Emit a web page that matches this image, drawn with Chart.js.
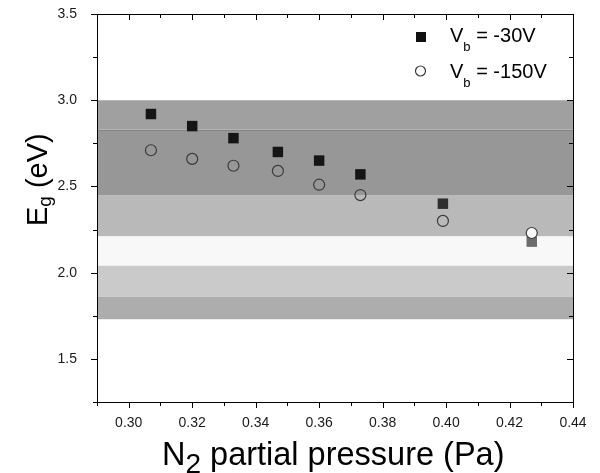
<!DOCTYPE html>
<html>
<head>
<meta charset="utf-8">
<script src="https://cdn.jsdelivr.net/npm/chart.js@4/dist/chart.umd.min.js"></script>
<style>
  html, body { margin: 0; padding: 0; background: #fff; }
  #wrap { width: 600px; height: 473px; }
</style>
</head>
<body>
<div id="wrap"><canvas id="eg-chart" width="600" height="473"></canvas></div>
<script>
// N2 partial pressure (Pa)
const pressure = [0.307, 0.320, 0.333, 0.347, 0.360, 0.373, 0.399, 0.427];
// band gap (eV)
const eg30 = [2.92, 2.85, 2.78, 2.70, 2.65, 2.57, 2.40, 2.18];
const eg150 = [2.71, 2.66, 2.62, 2.59, 2.51, 2.45, 2.30, 2.23];

// shaded energy ranges (eV)
const bandTop = [3.00, 2.83, 2.45, 2.21, 2.04, 1.86];
const bandBottom = [2.83, 2.45, 2.21, 2.04, 1.86, 1.73];
const lineLevel = 2.83;

const xTicks = [0.30, 0.32, 0.34, 0.36, 0.38, 0.40, 0.42, 0.44];
const xTickLabels = ['0.30', '0.32', '0.34', '0.36', '0.38', '0.40', '0.42', '0.44'];
const xMinor = [0.29, 0.31, 0.33, 0.35, 0.37, 0.39, 0.41, 0.43];
const yTicks = [1.5, 2.0, 2.5, 3.0, 3.5];
const yTickLabels = ['1.5', '2.0', '2.5', '3.0', '3.5'];
const yMinor = [1.25, 1.75, 2.25, 2.75, 3.25];

const bandColors = ['#a0a0a0', '#979797', '#b9b9b9', '#f8f8f8', '#cacaca', '#adadad'];
const FONT = '"Liberation Sans", Arial, sans-serif';

// draws "main" + subscript + "rest" starting at (x, y) baseline
function subText(ctx, x, y, main, sub, rest, size, subSize, subDrop) {
    ctx.font = size + 'px ' + FONT;
    ctx.fillText(main, x, y);
    x += ctx.measureText(main).width;
    ctx.font = subSize + 'px ' + FONT;
    ctx.fillText(sub, x, y + subDrop);
    x += ctx.measureText(sub).width;
    ctx.font = size + 'px ' + FONT;
    ctx.fillText(rest, x, y);
}

const decor = {
    id: 'decor',
    beforeDatasetsDraw(chart) {
        const { ctx, chartArea: a, scales: { y } } = chart;
        ctx.save();
        bandTop.forEach((t, i) => {
            const y1 = y.getPixelForValue(t);
            const y2 = y.getPixelForValue(bandBottom[i]);
            ctx.fillStyle = bandColors[i];
            ctx.fillRect(a.left, y1, a.right - a.left, y2 - y1);
        });
        const ly = Math.round(y.getPixelForValue(lineLevel)) + 0.5;
        ctx.strokeStyle = '#858585';
        ctx.lineWidth = 1;
        ctx.beginPath();
        ctx.moveTo(a.left, ly);
        ctx.lineTo(a.right, ly);
        ctx.stroke();
        ctx.restore();
    },
    afterDraw(chart) {
        const { ctx, chartArea: a, scales: { x, y } } = chart;
        ctx.save();

        // frame
        ctx.strokeStyle = '#000';
        ctx.lineWidth = 1;
        ctx.strokeRect(Math.round(a.left) + 0.5, Math.round(a.top) + 0.5,
            Math.round(a.right - a.left), Math.round(a.bottom - a.top));

        // tick marks on all four sides
        ctx.beginPath();
        const xt = (v, len) => {
            const px = Math.round(x.getPixelForValue(v)) + 0.5;
            ctx.moveTo(px, a.bottom); ctx.lineTo(px, a.bottom + len);
            ctx.moveTo(px, a.top); ctx.lineTo(px, a.top + len);
        };
        const yt = (v, len) => {
            const py = Math.round(y.getPixelForValue(v)) + 0.5;
            ctx.moveTo(a.left, py); ctx.lineTo(a.left - len, py);
            ctx.moveTo(a.right, py); ctx.lineTo(a.right - len, py);
        };
        xTicks.forEach(v => xt(v, 6));
        xMinor.forEach(v => xt(v, 4));
        yTicks.forEach(v => yt(v, 6));
        yMinor.forEach(v => yt(v, 4));
        ctx.stroke();

        ctx.fillStyle = '#000';
        ctx.textAlign = 'left';
        ctx.textBaseline = 'alphabetic';

        // x title
        subText(ctx, 162, 465, 'N', '2', ' partial pressure (Pa)', 32.5, 28, 8);

        // y title
        ctx.save();
        ctx.translate(47, 226);
        ctx.rotate(-Math.PI / 2);
        subText(ctx, 0, 0, 'E', 'g', ' (eV)', 29, 19, 4);
        ctx.restore();

        // legend
        ctx.fillStyle = '#111';
        ctx.fillRect(416, 32, 10, 10);
        ctx.fillStyle = '#000';
        subText(ctx, 450, 42, 'V', 'b', ' = -30V', 20, 13, 9);
        ctx.strokeStyle = '#3a3a3a';
        ctx.lineWidth = 1.2;
        ctx.beginPath();
        ctx.arc(420.5, 71, 5, 0, Math.PI * 2);
        ctx.stroke();
        subText(ctx, 450, 78, 'V', 'b', ' = -150V', 20, 13, 9);

        ctx.restore();
    }
};

const ctx = document.getElementById('eg-chart').getContext('2d');
new Chart(ctx, {
    type: 'scatter',
    data: {
        datasets: [
            {
                label: 'Vb = -150V',
                data: pressure.map((p, i) => ({ x: p, y: eg150[i] })),
                pointStyle: 'circle',
                pointRadius: 5.5,
                pointBorderWidth: 1.2,
                pointBorderColor: '#3a3a3a',
                pointBackgroundColor: pressure.map((p, i) => i === pressure.length - 1 ? '#fafafa' : 'rgba(0,0,0,0)'),
                order: 0
            },
            {
                label: 'Vb = -30V',
                data: pressure.map((p, i) => ({ x: p, y: eg30[i] })),
                pointStyle: 'rect',
                pointRadius: 7.4,
                pointBorderWidth: 0,
                pointBackgroundColor: ['#151515', '#151515', '#151515', '#151515', '#151515', '#151515', '#2e2e2e', '#6c6c6c'],
                order: 1
            }
        ]
    },
    options: {
        responsive: false,
        animation: false,
        layout: { padding: { top: 14, right: 27, left: 0, bottom: 0 } },
        plugins: {
            legend: { display: false },
            tooltip: { enabled: false }
        },
        scales: {
            x: {
                type: 'linear',
                min: 0.29,
                max: 0.44,
                afterBuildTicks: s => { s.ticks = xTicks.map(v => ({ value: v })); },
                afterFit: s => { s.height = 71; s.paddingLeft = 0; s.paddingRight = 0; },
                grid: { display: false },
                border: { display: false },
                ticks: {
                    autoSkip: false,
                    maxRotation: 0,
                    padding: 5,
                    color: '#1a1a1a',
                    font: { family: FONT, size: 14 },
                    callback: (v, i) => xTickLabels[i]
                }
            },
            y: {
                type: 'linear',
                min: 1.25,
                max: 3.5,
                afterBuildTicks: s => { s.ticks = yTicks.map(v => ({ value: v })); },
                afterFit: s => { s.width = 97; s.paddingTop = 0; s.paddingBottom = 0; },
                grid: { display: false },
                border: { display: false },
                ticks: {
                    padding: 12,
                    color: '#1a1a1a',
                    font: { family: FONT, size: 14 },
                    callback: (v, i) => yTickLabels[i]
                }
            }
        }
    },
    plugins: [decor]
});
</script>
</body>
</html>
